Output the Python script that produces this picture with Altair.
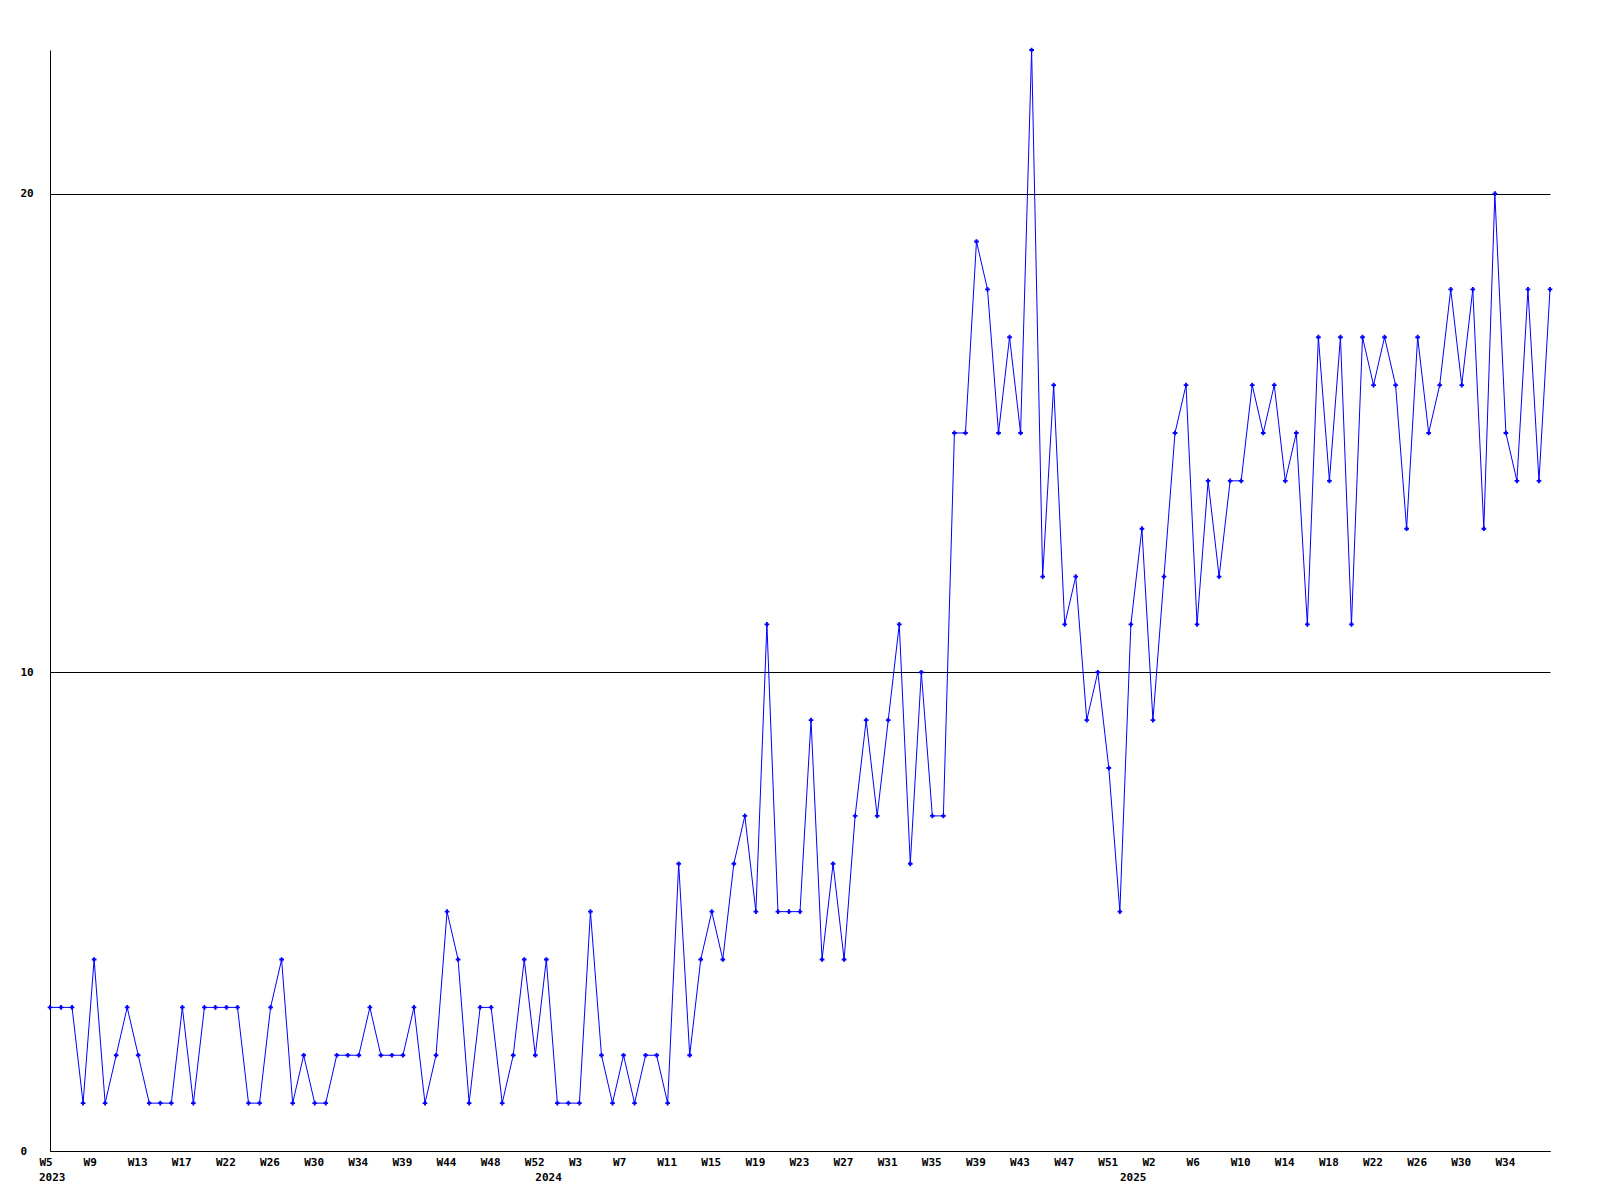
import altair as alt
import pandas as pd

# weekly counts (index 0 = 2023 W5)
values = [
    3, 3, 3, 1, 4, 1, 2, 3, 2, 1, 1, 1, 3, 1, 3, 3, 3, 3, 1, 1,
    3, 4, 1, 2, 1, 1, 2, 2, 2, 3, 2, 2, 2, 3, 1, 2, 5, 4, 1, 3,
    3, 1, 2, 4, 2,
    4, 1, 1, 1, 5, 2, 1, 2, 1, 2, 2, 1, 6, 2, 4, 5, 4, 6, 7, 5,
    11, 5, 5, 5, 9, 4, 6, 4, 7, 9, 7, 9, 11, 6, 10, 7, 7,
    15, 15, 19, 18, 15, 17, 15, 23, 12, 16, 11, 12, 9, 10, 8, 5, 11, 13, 9, 12,
    15, 16, 11, 14, 12, 14, 14, 16, 15, 16, 14, 15, 11, 17, 14, 17, 11, 17, 16, 17,
    16, 13, 17, 15, 16, 18, 16, 18, 13, 20, 15, 14, 18, 14, 18,
]

week_labels = [
    "W5", "W9", "W13", "W17", "W22", "W26", "W30", "W34", "W39", "W44", "W48", "W52",
    "W3", "W7", "W11", "W15", "W19", "W23", "W27", "W31", "W35", "W39", "W43", "W47", "W51",
    "W2", "W6", "W10", "W14", "W18", "W22", "W26", "W30", "W34",
]
label_step = 4

years = ["2023", "2024", "2025"]
year_index = [0, 45, 98]

y_ticks = [0, 10, 20]
y_max = 23

W, H = 1500, 1101
FONT = "DejaVu Sans Mono"
BLUE = "#0000ff"

df = pd.DataFrame({"i": list(range(len(values))), "v": values})
ydf = pd.DataFrame({"i": year_index, "year": years})

label_expr = "[" + ",".join(f"'{l}'" for l in week_labels) + f"][round(datum.value / {label_step})]"

x_scale = alt.Scale(domain=[0, len(values) - 1], nice=False, zero=False)
y_scale = alt.Scale(domain=[0, y_max], nice=False)

x_axis = alt.Axis(
    values=[k * label_step for k in range(len(week_labels))],
    labelExpr=label_expr,
    title=None,
    grid=False,
    ticks=False,
    tickSize=0,
    domainColor="black",
    domainWidth=1,
    labelAlign="left",
    labelBaseline="top",
    labelOffset=-11,
    labelPadding=5,
    labelFlush=False,
    labelOverlap=False,
    labelBound=False,
    labelFont=FONT,
    labelFontSize=11,
    labelFontWeight="bold",
    labelColor="black",
)

y_axis = alt.Axis(
    values=y_ticks,
    format="d",
    title=None,
    grid=True,
    gridColor="black",
    gridOpacity=1,
    gridWidth=1,
    ticks=False,
    tickSize=0,
    domainColor="black",
    domainWidth=1,
    labelAlign="left",
    labelPadding=30,
    labelFont=FONT,
    labelFontSize=11,
    labelFontWeight="bold",
    labelColor="black",
)

base = alt.Chart(df)

line = base.mark_line(color=BLUE, strokeWidth=1).encode(
    x=alt.X("i:Q", scale=x_scale, axis=x_axis),
    y=alt.Y("v:Q", scale=y_scale, axis=y_axis),
)

pts = base.mark_point(shape="cross", filled=True, size=22, color=BLUE, opacity=1).encode(
    x=alt.X("i:Q", scale=x_scale),
    y=alt.Y("v:Q", scale=y_scale),
)

year_text = alt.Chart(ydf).mark_text(
    align="left", baseline="top", dx=-11, font=FONT, fontSize=11,
    fontWeight="bold", color="black",
).encode(
    x=alt.X("i:Q", scale=x_scale),
    y=alt.value(H + 21),
    text="year:N",
)

chart = alt.layer(line, pts, year_text).properties(
    width=W,
    height=H,
    autosize=alt.AutoSizeParams(type="none"),
    padding={"left": 42, "top": 42, "right": 42, "bottom": 42},
    background="white",
).configure_view(strokeWidth=0)

chart.save("out.html", embed_options={"renderer": "svg", "actions": False})
